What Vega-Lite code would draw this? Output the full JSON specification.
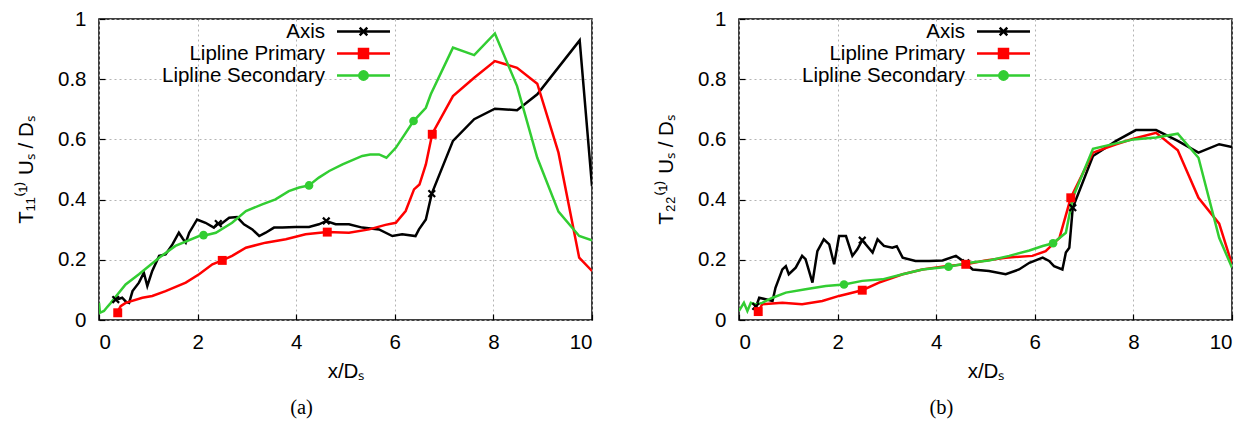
{
  "$schema": "https://vega.github.io/schema/vega-lite/v6.json",
  "padding": {"left": 15, "top": 8, "right": 5, "bottom": 5},
  "background": "white",
  "bounds": "flush",
  "spacing": 147,
  "datasets": {
    "a_lines": [
      {"series": "Axis", "x": 0.30, "y": 0.063}, {"series": "Axis", "x": 0.34, "y": 0.074}, {"series": "Axis", "x": 0.40, "y": 0.07}, {"series": "Axis", "x": 0.47, "y": 0.074}, {"series": "Axis", "x": 0.55, "y": 0.06}, {"series": "Axis", "x": 0.61, "y": 0.057}, {"series": "Axis", "x": 0.68, "y": 0.096}, {"series": "Axis", "x": 0.81, "y": 0.124}, {"series": "Axis", "x": 0.91, "y": 0.157}, {"series": "Axis", "x": 0.98, "y": 0.113}, {"series": "Axis", "x": 1.08, "y": 0.163}, {"series": "Axis", "x": 1.22, "y": 0.213}, {"series": "Axis", "x": 1.35, "y": 0.218}, {"series": "Axis", "x": 1.49, "y": 0.251}, {"series": "Axis", "x": 1.62, "y": 0.29}, {"series": "Axis", "x": 1.70, "y": 0.27}, {"series": "Axis", "x": 1.76, "y": 0.257}, {"series": "Axis", "x": 1.83, "y": 0.29}, {"series": "Axis", "x": 1.99, "y": 0.334}, {"series": "Axis", "x": 2.16, "y": 0.323}, {"series": "Axis", "x": 2.33, "y": 0.307}, {"series": "Axis", "x": 2.40, "y": 0.32}, {"series": "Axis", "x": 2.47, "y": 0.318}, {"series": "Axis", "x": 2.64, "y": 0.34}, {"series": "Axis", "x": 2.80, "y": 0.342}, {"series": "Axis", "x": 2.94, "y": 0.318}, {"series": "Axis", "x": 3.11, "y": 0.301}, {"series": "Axis", "x": 3.25, "y": 0.279}, {"series": "Axis", "x": 3.38, "y": 0.29}, {"series": "Axis", "x": 3.55, "y": 0.307}, {"series": "Axis", "x": 3.72, "y": 0.307}, {"series": "Axis", "x": 3.99, "y": 0.309}, {"series": "Axis", "x": 4.26, "y": 0.309}, {"series": "Axis", "x": 4.46, "y": 0.318}, {"series": "Axis", "x": 4.61, "y": 0.329}, {"series": "Axis", "x": 4.80, "y": 0.318}, {"series": "Axis", "x": 5.07, "y": 0.318}, {"series": "Axis", "x": 5.34, "y": 0.307}, {"series": "Axis", "x": 5.68, "y": 0.301}, {"series": "Axis", "x": 5.95, "y": 0.279}, {"series": "Axis", "x": 6.15, "y": 0.285}, {"series": "Axis", "x": 6.42, "y": 0.279}, {"series": "Axis", "x": 6.49, "y": 0.301}, {"series": "Axis", "x": 6.63, "y": 0.334}, {"series": "Axis", "x": 6.75, "y": 0.42}, {"series": "Axis", "x": 7.18, "y": 0.595}, {"series": "Axis", "x": 7.61, "y": 0.667}, {"series": "Axis", "x": 8.03, "y": 0.702}, {"series": "Axis", "x": 8.48, "y": 0.697}, {"series": "Axis", "x": 8.89, "y": 0.75}, {"series": "Axis", "x": 9.75, "y": 0.929}, {"series": "Axis", "x": 10.0, "y": 0.445},
      {"series": "Lipline Primary", "x": 0.37, "y": 0.025}, {"series": "Lipline Primary", "x": 0.44, "y": 0.046}, {"series": "Lipline Primary", "x": 0.54, "y": 0.057}, {"series": "Lipline Primary", "x": 0.88, "y": 0.074}, {"series": "Lipline Primary", "x": 1.08, "y": 0.08}, {"series": "Lipline Primary", "x": 1.35, "y": 0.096}, {"series": "Lipline Primary", "x": 1.76, "y": 0.124}, {"series": "Lipline Primary", "x": 2.03, "y": 0.152}, {"series": "Lipline Primary", "x": 2.30, "y": 0.185}, {"series": "Lipline Primary", "x": 2.50, "y": 0.198}, {"series": "Lipline Primary", "x": 2.70, "y": 0.213}, {"series": "Lipline Primary", "x": 2.98, "y": 0.24}, {"series": "Lipline Primary", "x": 3.38, "y": 0.257}, {"series": "Lipline Primary", "x": 3.79, "y": 0.268}, {"series": "Lipline Primary", "x": 4.19, "y": 0.285}, {"series": "Lipline Primary", "x": 4.63, "y": 0.292}, {"series": "Lipline Primary", "x": 5.07, "y": 0.29}, {"series": "Lipline Primary", "x": 5.48, "y": 0.301}, {"series": "Lipline Primary", "x": 5.81, "y": 0.316}, {"series": "Lipline Primary", "x": 6.02, "y": 0.323}, {"series": "Lipline Primary", "x": 6.22, "y": 0.362}, {"series": "Lipline Primary", "x": 6.39, "y": 0.434}, {"series": "Lipline Primary", "x": 6.50, "y": 0.45}, {"series": "Lipline Primary", "x": 6.63, "y": 0.517}, {"series": "Lipline Primary", "x": 6.76, "y": 0.619}, {"series": "Lipline Primary", "x": 7.18, "y": 0.744}, {"series": "Lipline Primary", "x": 7.61, "y": 0.805}, {"series": "Lipline Primary", "x": 8.03, "y": 0.86}, {"series": "Lipline Primary", "x": 8.48, "y": 0.838}, {"series": "Lipline Primary", "x": 8.89, "y": 0.785}, {"series": "Lipline Primary", "x": 9.32, "y": 0.556}, {"series": "Lipline Primary", "x": 9.74, "y": 0.207}, {"series": "Lipline Primary", "x": 10.0, "y": 0.163},
      {"series": "Lipline Secondary", "x": 0.0, "y": 0.057}, {"series": "Lipline Secondary", "x": 0.02, "y": 0.024}, {"series": "Lipline Secondary", "x": 0.10, "y": 0.03}, {"series": "Lipline Secondary", "x": 0.15, "y": 0.04}, {"series": "Lipline Secondary", "x": 0.24, "y": 0.057}, {"series": "Lipline Secondary", "x": 0.35, "y": 0.08}, {"series": "Lipline Secondary", "x": 0.54, "y": 0.118}, {"series": "Lipline Secondary", "x": 0.81, "y": 0.152}, {"series": "Lipline Secondary", "x": 1.22, "y": 0.207}, {"series": "Lipline Secondary", "x": 1.55, "y": 0.246}, {"series": "Lipline Secondary", "x": 2.03, "y": 0.279}, {"series": "Lipline Secondary", "x": 2.12, "y": 0.28}, {"series": "Lipline Secondary", "x": 2.37, "y": 0.29}, {"series": "Lipline Secondary", "x": 2.70, "y": 0.323}, {"series": "Lipline Secondary", "x": 2.98, "y": 0.362}, {"series": "Lipline Secondary", "x": 3.31, "y": 0.384}, {"series": "Lipline Secondary", "x": 3.58, "y": 0.401}, {"series": "Lipline Secondary", "x": 3.85, "y": 0.428}, {"series": "Lipline Secondary", "x": 4.06, "y": 0.44}, {"series": "Lipline Secondary", "x": 4.26, "y": 0.447}, {"series": "Lipline Secondary", "x": 4.46, "y": 0.473}, {"series": "Lipline Secondary", "x": 4.67, "y": 0.495}, {"series": "Lipline Secondary", "x": 4.94, "y": 0.517}, {"series": "Lipline Secondary", "x": 5.34, "y": 0.545}, {"series": "Lipline Secondary", "x": 5.50, "y": 0.55}, {"series": "Lipline Secondary", "x": 5.68, "y": 0.55}, {"series": "Lipline Secondary", "x": 5.83, "y": 0.539}, {"series": "Lipline Secondary", "x": 6.02, "y": 0.572}, {"series": "Lipline Secondary", "x": 6.38, "y": 0.661}, {"series": "Lipline Secondary", "x": 6.63, "y": 0.705}, {"series": "Lipline Secondary", "x": 6.73, "y": 0.75}, {"series": "Lipline Secondary", "x": 7.18, "y": 0.905}, {"series": "Lipline Secondary", "x": 7.61, "y": 0.88}, {"series": "Lipline Secondary", "x": 8.03, "y": 0.952}, {"series": "Lipline Secondary", "x": 8.48, "y": 0.777}, {"series": "Lipline Secondary", "x": 8.89, "y": 0.539}, {"series": "Lipline Secondary", "x": 9.32, "y": 0.36}, {"series": "Lipline Secondary", "x": 9.74, "y": 0.279}, {"series": "Lipline Secondary", "x": 10.0, "y": 0.265}
    ],
    "a_marks": [
      {"series": "Axis", "x": 0.34, "y": 0.068}, {"series": "Axis", "x": 2.42, "y": 0.32}, {"series": "Axis", "x": 4.61, "y": 0.329}, {"series": "Axis", "x": 6.75, "y": 0.42},
      {"series": "Lipline Primary", "x": 0.38, "y": 0.024}, {"series": "Lipline Primary", "x": 2.50, "y": 0.198}, {"series": "Lipline Primary", "x": 4.63, "y": 0.292}, {"series": "Lipline Primary", "x": 6.76, "y": 0.617},
      {"series": "Lipline Secondary", "x": 2.12, "y": 0.282}, {"series": "Lipline Secondary", "x": 4.26, "y": 0.447}, {"series": "Lipline Secondary", "x": 6.38, "y": 0.661}
    ],
    "b_lines": [
      {"series": "Axis", "x": 0.34, "y": 0.041}, {"series": "Axis", "x": 0.41, "y": 0.074}, {"series": "Axis", "x": 0.54, "y": 0.069}, {"series": "Axis", "x": 0.68, "y": 0.063}, {"series": "Axis", "x": 0.74, "y": 0.107}, {"series": "Axis", "x": 0.88, "y": 0.168}, {"series": "Axis", "x": 0.95, "y": 0.179}, {"series": "Axis", "x": 1.01, "y": 0.152}, {"series": "Axis", "x": 1.15, "y": 0.174}, {"series": "Axis", "x": 1.28, "y": 0.213}, {"series": "Axis", "x": 1.35, "y": 0.202}, {"series": "Axis", "x": 1.49, "y": 0.124}, {"series": "Axis", "x": 1.59, "y": 0.229}, {"series": "Axis", "x": 1.72, "y": 0.268}, {"series": "Axis", "x": 1.83, "y": 0.251}, {"series": "Axis", "x": 1.93, "y": 0.185}, {"series": "Axis", "x": 2.03, "y": 0.279}, {"series": "Axis", "x": 2.17, "y": 0.279}, {"series": "Axis", "x": 2.30, "y": 0.213}, {"series": "Axis", "x": 2.40, "y": 0.235}, {"series": "Axis", "x": 2.50, "y": 0.265}, {"series": "Axis", "x": 2.71, "y": 0.224}, {"series": "Axis", "x": 2.81, "y": 0.268}, {"series": "Axis", "x": 2.94, "y": 0.246}, {"series": "Axis", "x": 3.11, "y": 0.24}, {"series": "Axis", "x": 3.20, "y": 0.245}, {"series": "Axis", "x": 3.32, "y": 0.207}, {"series": "Axis", "x": 3.58, "y": 0.196}, {"series": "Axis", "x": 3.86, "y": 0.196}, {"series": "Axis", "x": 4.13, "y": 0.198}, {"series": "Axis", "x": 4.40, "y": 0.213}, {"series": "Axis", "x": 4.53, "y": 0.198}, {"series": "Axis", "x": 4.74, "y": 0.168}, {"series": "Axis", "x": 5.07, "y": 0.163}, {"series": "Axis", "x": 5.41, "y": 0.152}, {"series": "Axis", "x": 5.68, "y": 0.168}, {"series": "Axis", "x": 5.89, "y": 0.19}, {"series": "Axis", "x": 6.16, "y": 0.207}, {"series": "Axis", "x": 6.29, "y": 0.196}, {"series": "Axis", "x": 6.39, "y": 0.179}, {"series": "Axis", "x": 6.56, "y": 0.168}, {"series": "Axis", "x": 6.63, "y": 0.224}, {"series": "Axis", "x": 6.70, "y": 0.24}, {"series": "Axis", "x": 6.77, "y": 0.373}, {"series": "Axis", "x": 7.18, "y": 0.545}, {"series": "Axis", "x": 7.65, "y": 0.595}, {"series": "Axis", "x": 8.05, "y": 0.631}, {"series": "Axis", "x": 8.46, "y": 0.631}, {"series": "Axis", "x": 8.90, "y": 0.595}, {"series": "Axis", "x": 9.32, "y": 0.556}, {"series": "Axis", "x": 9.74, "y": 0.584}, {"series": "Axis", "x": 10.0, "y": 0.575},
      {"series": "Lipline Primary", "x": 0.39, "y": 0.028}, {"series": "Lipline Primary", "x": 0.47, "y": 0.052}, {"series": "Lipline Primary", "x": 0.88, "y": 0.057}, {"series": "Lipline Primary", "x": 1.28, "y": 0.052}, {"series": "Lipline Primary", "x": 1.69, "y": 0.063}, {"series": "Lipline Primary", "x": 2.03, "y": 0.08}, {"series": "Lipline Primary", "x": 2.50, "y": 0.099}, {"series": "Lipline Primary", "x": 2.84, "y": 0.124}, {"series": "Lipline Primary", "x": 3.32, "y": 0.152}, {"series": "Lipline Primary", "x": 3.72, "y": 0.168}, {"series": "Lipline Primary", "x": 4.19, "y": 0.179}, {"series": "Lipline Primary", "x": 4.60, "y": 0.185}, {"series": "Lipline Primary", "x": 5.00, "y": 0.198}, {"series": "Lipline Primary", "x": 5.41, "y": 0.207}, {"series": "Lipline Primary", "x": 5.95, "y": 0.213}, {"series": "Lipline Primary", "x": 6.22, "y": 0.229}, {"series": "Lipline Primary", "x": 6.50, "y": 0.273}, {"series": "Lipline Primary", "x": 6.73, "y": 0.406}, {"series": "Lipline Primary", "x": 7.18, "y": 0.556}, {"series": "Lipline Primary", "x": 7.65, "y": 0.584}, {"series": "Lipline Primary", "x": 8.00, "y": 0.602}, {"series": "Lipline Primary", "x": 8.46, "y": 0.622}, {"series": "Lipline Primary", "x": 8.90, "y": 0.564}, {"series": "Lipline Primary", "x": 9.32, "y": 0.406}, {"series": "Lipline Primary", "x": 9.74, "y": 0.32}, {"series": "Lipline Primary", "x": 10.0, "y": 0.185},
      {"series": "Lipline Secondary", "x": 0.0, "y": 0.03}, {"series": "Lipline Secondary", "x": 0.10, "y": 0.057}, {"series": "Lipline Secondary", "x": 0.17, "y": 0.03}, {"series": "Lipline Secondary", "x": 0.24, "y": 0.057}, {"series": "Lipline Secondary", "x": 0.34, "y": 0.052}, {"series": "Lipline Secondary", "x": 0.47, "y": 0.057}, {"series": "Lipline Secondary", "x": 0.68, "y": 0.074}, {"series": "Lipline Secondary", "x": 0.95, "y": 0.091}, {"series": "Lipline Secondary", "x": 1.35, "y": 0.102}, {"series": "Lipline Secondary", "x": 1.76, "y": 0.113}, {"series": "Lipline Secondary", "x": 2.13, "y": 0.118}, {"series": "Lipline Secondary", "x": 2.50, "y": 0.13}, {"series": "Lipline Secondary", "x": 2.91, "y": 0.135}, {"series": "Lipline Secondary", "x": 3.32, "y": 0.152}, {"series": "Lipline Secondary", "x": 3.72, "y": 0.168}, {"series": "Lipline Secondary", "x": 4.25, "y": 0.177}, {"series": "Lipline Secondary", "x": 4.67, "y": 0.19}, {"series": "Lipline Secondary", "x": 5.07, "y": 0.198}, {"series": "Lipline Secondary", "x": 5.48, "y": 0.213}, {"series": "Lipline Secondary", "x": 5.89, "y": 0.231}, {"series": "Lipline Secondary", "x": 6.16, "y": 0.246}, {"series": "Lipline Secondary", "x": 6.37, "y": 0.255}, {"series": "Lipline Secondary", "x": 6.63, "y": 0.29}, {"series": "Lipline Secondary", "x": 6.77, "y": 0.406}, {"series": "Lipline Secondary", "x": 7.18, "y": 0.569}, {"series": "Lipline Secondary", "x": 8.00, "y": 0.6}, {"series": "Lipline Secondary", "x": 8.46, "y": 0.606}, {"series": "Lipline Secondary", "x": 8.90, "y": 0.619}, {"series": "Lipline Secondary", "x": 9.32, "y": 0.539}, {"series": "Lipline Secondary", "x": 9.74, "y": 0.273}, {"series": "Lipline Secondary", "x": 10.0, "y": 0.174}
    ],
    "b_marks": [
      {"series": "Axis", "x": 0.34, "y": 0.045}, {"series": "Axis", "x": 2.50, "y": 0.265}, {"series": "Axis", "x": 4.60, "y": 0.19}, {"series": "Axis", "x": 6.77, "y": 0.373},
      {"series": "Lipline Primary", "x": 0.39, "y": 0.028}, {"series": "Lipline Primary", "x": 2.50, "y": 0.099}, {"series": "Lipline Primary", "x": 4.60, "y": 0.185}, {"series": "Lipline Primary", "x": 6.73, "y": 0.406},
      {"series": "Lipline Secondary", "x": 2.13, "y": 0.118}, {"series": "Lipline Secondary", "x": 4.25, "y": 0.177}, {"series": "Lipline Secondary", "x": 6.37, "y": 0.255}
    ]
  },
  "hconcat": [
    {
      "width": 493, "height": 301,
      "title": {"text": "(a)", "orient": "bottom", "dx": -44},
      "layer": [
        {
          "data": {"name": "a_lines"},
          "mark": {"type": "line", "strokeWidth": 2.5, "clip": true},
          "encoding": {
            "x": {"field": "x", "type": "quantitative", "scale": {"domain": [0, 10], "nice": false}, "axis": {"title": "x/Dₛ", "values": [0, 2, 4, 6, 8, 10], "format": "~r"}},
            "y": {"field": "y", "type": "quantitative", "scale": {"domain": [0, 1], "nice": false}, "axis": {"title": "T₁₁⁽¹⁾ Uₛ / Dₛ", "values": [0, 0.2, 0.4, 0.6, 0.8, 1], "format": "~r"}},
            "color": {"field": "series", "type": "nominal", "scale": {"domain": ["Axis", "Lipline Primary", "Lipline Secondary"], "range": ["#000000", "#ff0000", "#32cd32"]},
              "legend": {"title": null, "orient": "none", "legendX": 253, "legendY": 1, "symbolSize": 400, "labelAlign": "right", "labelOffset": -50, "labelLimit": 400, "rowPadding": 0, "padding": 0,
                "encode": {"symbols": {"update": {
                  "shape": {"signal": "datum.value === 'Axis' ? 'M-2.65,0H2.65M-0.38,-0.38L0.38,0.38M-0.38,0.38L0.38,-0.38' : datum.value === 'Lipline Primary' ? 'M-2.65,0H2.65M-0.45,-0.45H0.45V0.45H-0.45Z' : 'M-2.65,0H2.65M0.42,0A0.42,0.42,0,1,1,-0.42,0A0.42,0.42,0,1,1,0.42,0Z'"},
                  "fill": {"signal": "datum.value === 'Axis' ? '#000000' : datum.value === 'Lipline Primary' ? '#ff0000' : '#32cd32'"},
                  "stroke": {"signal": "datum.value === 'Axis' ? '#000000' : datum.value === 'Lipline Primary' ? '#ff0000' : '#32cd32'"},
                  "strokeWidth": {"value": 2.5}, "opacity": {"value": 1}, "fillOpacity": {"value": 1}, "strokeOpacity": {"value": 1}}}}}}
          }
        },
        {
          "data": {"name": "a_marks"},
          "transform": [{"filter": "datum.series === 'Axis'"}],
          "mark": {"type": "point", "filled": false, "shape": "M-0.8,-0.8L0.8,0.8M-0.8,0.8L0.8,-0.8", "size": 70, "strokeWidth": 2.2, "stroke": "#000000", "opacity": 1},
          "encoding": {"x": {"field": "x", "type": "quantitative"}, "y": {"field": "y", "type": "quantitative"}}
        },
        {
          "data": {"name": "a_marks"},
          "transform": [{"filter": "datum.series === 'Lipline Primary'"}],
          "mark": {"type": "point", "filled": true, "shape": "square", "size": 80, "fill": "#ff0000", "opacity": 1},
          "encoding": {"x": {"field": "x", "type": "quantitative"}, "y": {"field": "y", "type": "quantitative"}}
        },
        {
          "data": {"name": "a_marks"},
          "transform": [{"filter": "datum.series === 'Lipline Secondary'"}],
          "mark": {"type": "point", "filled": true, "shape": "circle", "size": 75, "fill": "#32cd32", "opacity": 1},
          "encoding": {"x": {"field": "x", "type": "quantitative"}, "y": {"field": "y", "type": "quantitative"}}
        }
      ]
    },
    {
      "width": 493, "height": 301,
      "title": {"text": "(b)", "orient": "bottom", "dx": -44},
      "layer": [
        {
          "data": {"name": "b_lines"},
          "mark": {"type": "line", "strokeWidth": 2.5, "clip": true},
          "encoding": {
            "x": {"field": "x", "type": "quantitative", "scale": {"domain": [0, 10], "nice": false}, "axis": {"title": "x/Dₛ", "values": [0, 2, 4, 6, 8, 10], "format": "~r"}},
            "y": {"field": "y", "type": "quantitative", "scale": {"domain": [0, 1], "nice": false}, "axis": {"title": "T₂₂⁽¹⁾ Uₛ / Dₛ", "values": [0, 0.2, 0.4, 0.6, 0.8, 1], "format": "~r"}},
            "color": {"field": "series", "type": "nominal", "scale": {"domain": ["Axis", "Lipline Primary", "Lipline Secondary"], "range": ["#000000", "#ff0000", "#32cd32"]},
              "legend": {"title": null, "orient": "none", "legendX": 253, "legendY": 1, "symbolSize": 400, "labelAlign": "right", "labelOffset": -50, "labelLimit": 400, "rowPadding": 0, "padding": 0,
                "encode": {"symbols": {"update": {
                  "shape": {"signal": "datum.value === 'Axis' ? 'M-2.65,0H2.65M-0.38,-0.38L0.38,0.38M-0.38,0.38L0.38,-0.38' : datum.value === 'Lipline Primary' ? 'M-2.65,0H2.65M-0.45,-0.45H0.45V0.45H-0.45Z' : 'M-2.65,0H2.65M0.42,0A0.42,0.42,0,1,1,-0.42,0A0.42,0.42,0,1,1,0.42,0Z'"},
                  "fill": {"signal": "datum.value === 'Axis' ? '#000000' : datum.value === 'Lipline Primary' ? '#ff0000' : '#32cd32'"},
                  "stroke": {"signal": "datum.value === 'Axis' ? '#000000' : datum.value === 'Lipline Primary' ? '#ff0000' : '#32cd32'"},
                  "strokeWidth": {"value": 2.5}, "opacity": {"value": 1}, "fillOpacity": {"value": 1}, "strokeOpacity": {"value": 1}}}}}}
          }
        },
        {
          "data": {"name": "b_marks"},
          "transform": [{"filter": "datum.series === 'Axis'"}],
          "mark": {"type": "point", "filled": false, "shape": "M-0.8,-0.8L0.8,0.8M-0.8,0.8L0.8,-0.8", "size": 70, "strokeWidth": 2.2, "stroke": "#000000", "opacity": 1},
          "encoding": {"x": {"field": "x", "type": "quantitative"}, "y": {"field": "y", "type": "quantitative"}}
        },
        {
          "data": {"name": "b_marks"},
          "transform": [{"filter": "datum.series === 'Lipline Primary'"}],
          "mark": {"type": "point", "filled": true, "shape": "square", "size": 80, "fill": "#ff0000", "opacity": 1},
          "encoding": {"x": {"field": "x", "type": "quantitative"}, "y": {"field": "y", "type": "quantitative"}}
        },
        {
          "data": {"name": "b_marks"},
          "transform": [{"filter": "datum.series === 'Lipline Secondary'"}],
          "mark": {"type": "point", "filled": true, "shape": "circle", "size": 75, "fill": "#32cd32", "opacity": 1},
          "encoding": {"x": {"field": "x", "type": "quantitative"}, "y": {"field": "y", "type": "quantitative"}}
        }
      ]
    }
  ],
  "resolve": {"scale": {"color": "independent"}, "legend": {"color": "independent"}},
  "config": {
    "font": "Liberation Sans",
    "view": {"stroke": "#000000", "strokeWidth": 1.5},
    "axis": {"labelFont": "Liberation Sans", "labelFontSize": 20.5, "labelColor": "#000000", "titleFont": "Liberation Sans", "titleFontSize": 20.5, "titleFontWeight": "normal", "titleColor": "#000000", "domain": false, "tickColor": "#000000", "tickSize": -6, "tickWidth": 1.2, "grid": true, "gridColor": "#b4b4b4", "gridDash": [2, 3], "gridWidth": 1, "gridOpacity": 1},
    "axisX": {"labelPadding": 18, "titlePadding": 9},
    "axisY": {"labelPadding": 19, "titlePadding": 21},
    "legend": {"labelFont": "Liberation Sans", "labelFontSize": 20.5, "labelColor": "#000000", "fillColor": "white"},
    "title": {"font": "Liberation Serif", "fontSize": 20.5, "fontWeight": "normal", "color": "#000000", "offset": 16}
  }
}
